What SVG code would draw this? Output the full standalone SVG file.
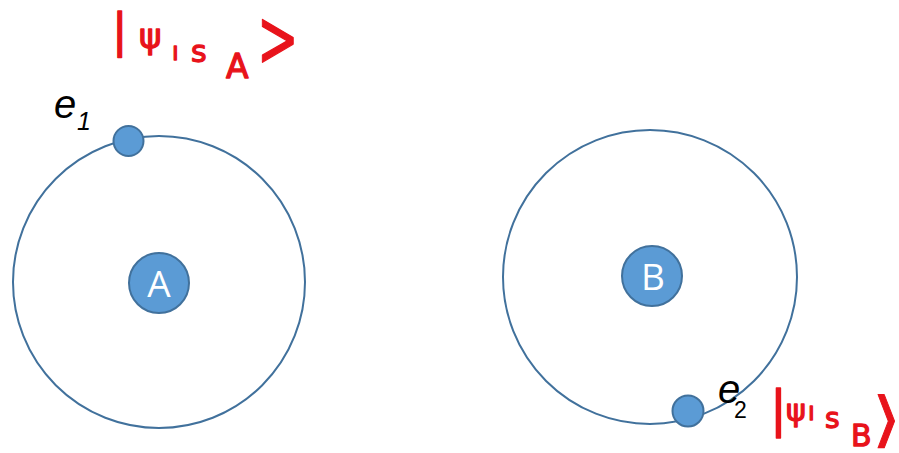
<svg xmlns="http://www.w3.org/2000/svg" width="899" height="453" viewBox="0 0 899 453">
<style>
.orbit{fill:none;stroke:#41719C;stroke-width:2}
.ball{fill:#5B9BD5;stroke:#41719C;stroke-width:2}
.nuc{font-family:"Open Sans","Liberation Sans",sans-serif;font-size:37px;fill:#ffffff;text-anchor:middle}
.lab{font-family:"Liberation Sans","DejaVu Sans",sans-serif;fill:#000;font-style:italic}
.red{font-family:"DejaVu Sans","Liberation Sans",sans-serif;fill:#E8131B;stroke:#E8131B;stroke-width:1.3;stroke-linejoin:round}
</style>
<rect width="899" height="453" fill="#ffffff"/>
<g id="atomA">
<circle class="orbit" cx="159" cy="282" r="146"/>
<circle class="ball" cx="159" cy="283" r="30"/>
<text class="nuc" x="159" y="297">A</text>
</g>
<g id="atomB">
<circle class="orbit" cx="650" cy="277" r="147"/>
<circle class="ball" cx="652" cy="276" r="30"/>
<text class="nuc" x="653" y="290">B</text>
</g>
<g id="e1">
<circle class="ball" cx="128.5" cy="141" r="15"/>
<text class="lab" x="54" y="118" font-size="40">e<tspan x="77" y="130" font-size="25">1</tspan></text>
</g>
<g id="e2">
<circle class="ball" cx="688" cy="411" r="15.5"/>
<text class="lab" x="718" y="403" font-size="40">e<tspan x="734" y="418" font-size="23" font-style="normal">2</tspan></text>
</g>
<g id="psiA" class="red">
<text x="112" y="46" font-size="46">|</text>
<text x="139" y="48" font-size="34">ψ</text>
<text x="172" y="60" font-size="24">ı</text>
<text x="191" y="62" font-size="30">s</text>
<text x="226" y="78" font-size="33">A</text>
<text transform="translate(257,66) scale(0.62,1)" font-size="80">&gt;</text>
</g>
<g id="psiB" class="red">
<text x="770" y="426" font-size="50">|</text>
<text x="786" y="421" font-size="30">ψ</text>
<text x="808" y="420" font-size="24">ı</text>
<text x="825" y="428" font-size="28">s</text>
<text x="851" y="446" font-size="30">B</text>
<text transform="translate(872,440) scale(1.25,1)" font-size="60" stroke-width="0.8">⟩</text>
</g>
</svg>
